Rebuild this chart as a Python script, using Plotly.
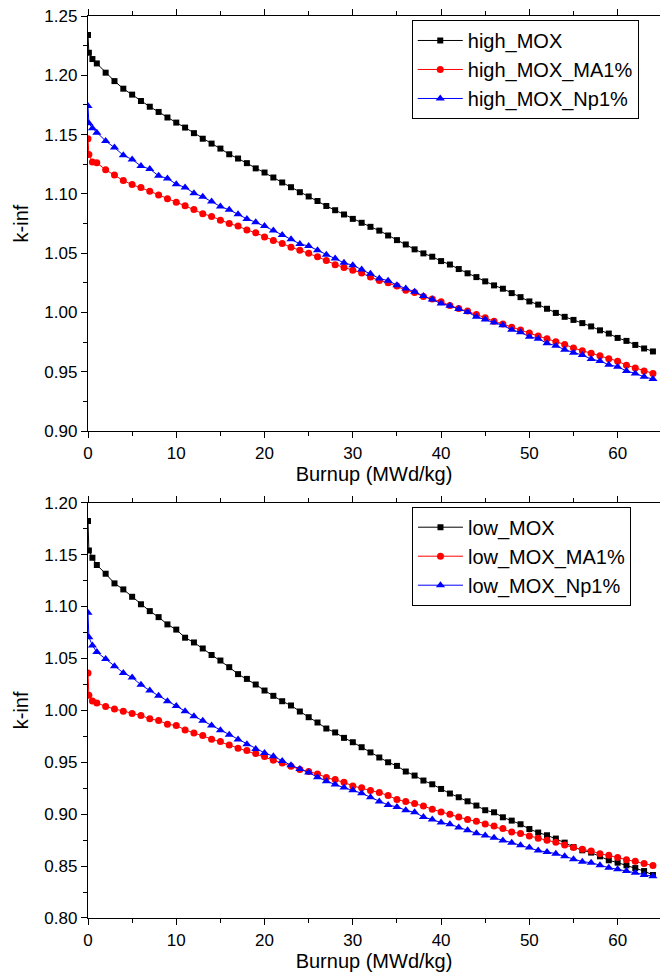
import plotly.graph_objects as go

burnup = [0, 0.1, 0.5] + list(range(1, 65))

high_MOX = [1.234, 1.219, 1.2137, 1.2100, 1.2022, 1.1951, 1.1887, 1.1837, 1.1783, 1.1735, 1.1691, 1.1644,
            1.1601, 1.1559, 1.1512, 1.1465, 1.1424, 1.1382, 1.1334, 1.1298, 1.1259, 1.1215, 1.1180, 1.1138,
            1.1096, 1.1056, 1.1014, 1.0978, 1.0940, 1.0898, 1.0862, 1.0826, 1.0789, 1.0756, 1.0722, 1.0690,
            1.0649, 1.0610, 1.0573, 1.0532, 1.0498, 1.0470, 1.0433, 1.0404, 1.0366, 1.0330, 1.0298, 1.0262,
            1.0228, 1.0200, 1.0163, 1.0129, 1.0093, 1.0066, 1.0031, 0.9996, 0.9963, 0.9937, 0.9910, 0.9882,
            0.9849, 0.9822, 0.9785, 0.9760, 0.9726, 0.9696, 0.9671]
high_MOX_MA1 = [1.1465, 1.1332, 1.1268, 1.1262, 1.1203, 1.1160, 1.1112, 1.1078, 1.1053, 1.1023, 1.0991,
                1.0958, 1.0930, 1.0899, 1.0868, 1.0833, 1.0810, 1.0778, 1.0750, 1.0728, 1.0696, 1.0671,
                1.0637, 1.0607, 1.0582, 1.0549, 1.0525, 1.0500, 1.0469, 1.0438, 1.0403, 1.0380, 1.0356,
                1.0333, 1.0298, 1.0270, 1.0250, 1.0222, 1.0188, 1.0168, 1.0134, 1.0114, 1.0090, 1.0058,
                1.0034, 1.0012, 0.9983, 0.9955, 0.9925, 0.9902, 0.9875, 0.9851, 0.9826, 0.9801, 0.9778,
                0.9753, 0.9730, 0.9700, 0.9677, 0.9655, 0.9634, 0.9610, 0.9589, 0.9555, 0.9532, 0.9506, 0.9486]
high_MOX_Np1 = [1.1742, 1.1596, 1.1554, 1.1516, 1.1446, 1.1390, 1.1326, 1.1290, 1.1235, 1.1209, 1.1152,
                1.1130, 1.1082, 1.1054, 1.1006, 1.0975, 1.0936, 1.0894, 1.0865, 1.0829, 1.0789, 1.0761,
                1.0728, 1.0691, 1.0654, 1.0618, 1.0578, 1.0560, 1.0525, 1.0486, 1.0455, 1.0418, 1.0398,
                1.0363, 1.0326, 1.0287, 1.0268, 1.0230, 1.0202, 1.0174, 1.0138, 1.0110, 1.0076, 1.0056,
                1.0028, 1.0003, 0.9963, 0.9941, 0.9916, 0.9891, 0.9853, 0.9832, 0.9796, 0.9778, 0.9740,
                0.9719, 0.9686, 0.9660, 0.9640, 0.9607, 0.9590, 0.9559, 0.9542, 0.9506, 0.9486, 0.9457, 0.9438]

low_MOX = [1.1824, 1.1540, 1.1470, 1.1400, 1.1316, 1.1223, 1.1165, 1.1094, 1.1022, 1.0956, 1.0898, 1.0828,
           1.0778, 1.0700, 1.0654, 1.0596, 1.0533, 1.0480, 1.0416, 1.0349, 1.0303, 1.0249, 1.0191, 1.0140,
           1.0088, 1.0047, 0.9989, 0.9934, 0.9883, 0.9825, 0.9787, 0.9735, 0.9693, 0.9645, 0.9595, 0.9546,
           0.9500, 0.9465, 0.9411, 0.9372, 0.9324, 0.9288, 0.9243, 0.9199, 0.9163, 0.9124, 0.9083, 0.9038,
           0.9018, 0.8970, 0.8938, 0.8903, 0.8857, 0.8823, 0.8797, 0.8765, 0.8726, 0.8684, 0.8652, 0.8630,
           0.8594, 0.8556, 0.8533, 0.8507, 0.8481, 0.8452, 0.8414]
low_MOX_MA1 = [1.0361, 1.0146, 1.0091, 1.0072, 1.0037, 1.0014, 0.9992, 0.9970, 0.9951, 0.9918, 0.9902,
               0.9867, 0.9854, 0.9812, 0.9783, 0.9758, 0.9722, 0.9700, 0.9667, 0.9635, 0.9613, 0.9584,
               0.9555, 0.9520, 0.9494, 0.9462, 0.9430, 0.9411, 0.9388, 0.9353, 0.9333, 0.9307, 0.9272,
               0.9254, 0.9229, 0.9208, 0.9180, 0.9141, 0.9122, 0.9102, 0.9079, 0.9047, 0.9021, 0.8999,
               0.8973, 0.8948, 0.8932, 0.8906, 0.8886, 0.8861, 0.8828, 0.8813, 0.8790, 0.8768, 0.8748,
               0.8729, 0.8703, 0.8678, 0.8662, 0.8645, 0.8620, 0.8604, 0.8582, 0.8562, 0.8546, 0.8524, 0.8505]
low_MOX_Np1 = [1.0940, 1.0705, 1.0625, 1.0561, 1.0495, 1.0425, 1.0361, 1.0317, 1.0246, 1.0191, 1.0140,
               1.0088, 1.0043, 0.9992, 0.9944, 0.9899, 0.9854, 0.9809, 0.9764, 0.9719, 0.9674, 0.9629,
               0.9590, 0.9558, 0.9513, 0.9471, 0.9436, 0.9401, 0.9356, 0.9317, 0.9285, 0.9256, 0.9230,
               0.9202, 0.9162, 0.9122, 0.9089, 0.9070, 0.9038, 0.9018, 0.8973, 0.8948, 0.8919, 0.8903,
               0.8871, 0.8845, 0.8816, 0.8794, 0.8774, 0.8746, 0.8726, 0.8700, 0.8678, 0.8649, 0.8636,
               0.8620, 0.8594, 0.8565, 0.8543, 0.8533, 0.8507, 0.8485, 0.8469, 0.8452, 0.8437, 0.8414, 0.8401]

FONT = "Liberation Sans, Arial, sans-serif"

styles = [("black", "square", 6), ("red", "circle", 7), ("blue", "triangle-up", 8)]

fig = go.Figure()
top_series = [("high_MOX", high_MOX), ("high_MOX_MA1%", high_MOX_MA1), ("high_MOX_Np1%", high_MOX_Np1)]
low_series = [("low_MOX", low_MOX), ("low_MOX_MA1%", low_MOX_MA1), ("low_MOX_Np1%", low_MOX_Np1)]

for (name, vals), (col, sym, sz) in zip(top_series, styles):
    fig.add_trace(go.Scatter(x=burnup, y=vals, name=name, mode="lines+markers",
                             line=dict(color=col, width=1),
                             marker=dict(color=col, symbol=sym, size=sz),
                             xaxis="x", yaxis="y", legend="legend"))
for (name, vals), (col, sym, sz) in zip(low_series, styles):
    fig.add_trace(go.Scatter(x=burnup, y=vals, name=name, mode="lines+markers",
                             line=dict(color=col, width=1),
                             marker=dict(color=col, symbol=sym, size=sz),
                             xaxis="x2", yaxis="y2", legend="legend2"))

xcommon = dict(range=[0, 64.8], dtick=10, tick0=0, showline=True, linecolor="black", linewidth=1.3,
               mirror="ticks", ticks="outside", ticklen=6, tickwidth=1.2, tickcolor="black",
               minor=dict(ticks="outside", ticklen=4, dtick=5, tickcolor="black", tickwidth=1.2),
               showgrid=False, zeroline=False, automargin=False,
               tickfont=dict(size=17, color="black", family=FONT),
               title=dict(text="Burnup (MWd/kg)", font=dict(size=20, color="black", family=FONT), standoff=3))
ycommon = dict(dtick=0.05, tickformat=".2f", showline=True, linecolor="black", linewidth=1.3,
               ticks="outside", ticklen=6, tickwidth=1.2, tickcolor="black",
               minor=dict(ticks="outside", ticklen=4, dtick=0.025, tickcolor="black", tickwidth=1.2),
               showgrid=False, zeroline=False, automargin=False,
               tickfont=dict(size=17, color="black", family=FONT),
               title=dict(text="k-inf", font=dict(size=20, color="black", family=FONT), standoff=10))

legcommon = dict(bordercolor="black", borderwidth=1, bgcolor="white", xanchor="left", yanchor="top",
                 font=dict(size=20, color="black", family=FONT), tracegroupgap=0, itemwidth=45)

fig.update_layout(
    width=660, height=977,
    margin=dict(l=88, r=0, t=16, b=59, autoexpand=False),
    paper_bgcolor="white", plot_bgcolor="white",
    xaxis=dict(domain=[0.0, 1.0], anchor="y", **xcommon),
    yaxis=dict(domain=[0.5399, 1.0], anchor="x", range=[0.90, 1.25], **ycommon),
    xaxis2=dict(domain=[0.0, 1.0], anchor="y2", **xcommon),
    yaxis2=dict(domain=[0.0, 0.4604], anchor="x2", range=[0.80, 1.20], **ycommon),
    legend=dict(x=0.566, y=0.9956, **legcommon),
    legend2=dict(x=0.5664, y=0.456, **legcommon),
)

fig.write_html("out.html", config={"displayModeBar": False},
               post_script="document.body.style.margin='0px';document.body.style.padding='0px';")
